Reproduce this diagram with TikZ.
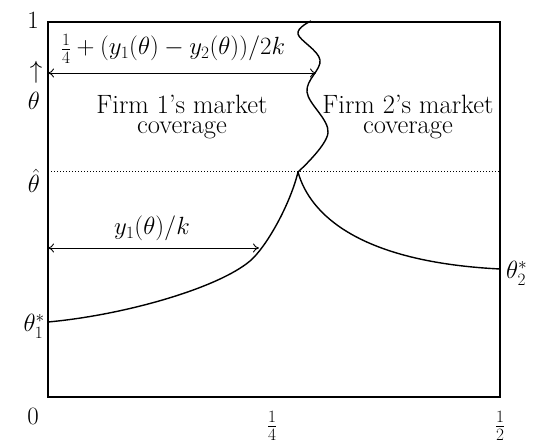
\documentclass[tikz,border=0pt]{standalone}
\usetikzlibrary{arrows.meta}
\begin{document}
\begin{tikzpicture}[x=1pt,y=-1pt,
  font=\fontsize{24}{20}\selectfont,
  frame/.style={line width=1.3pt},
  curvestyle/.style={line width=1.4pt, line join=round},
  dimline/.style={line width=0.9pt, {To[length=6pt,width=9pt]}-{To[length=6pt,width=9pt]}},
  lab/.style={inner sep=0pt},
  txt/.style={inner sep=0pt, align=center, font=\fontsize{26.5}{20.5}\selectfont}]
\useasboundingbox (0,0) rectangle (536,443);
% frame corners
\coordinate (tl) at (48,22);
\coordinate (br) at (500,397);
\draw[frame] (tl) rectangle (br);
% dotted theta-hat line
\coordinate (dl) at (48,172);
\coordinate (dr) at (500,172);
\coordinate (cusp) at (298,172);
\coordinate (f1start) at (48,322);
\coordinate (f1mid) at (250,261);
\coordinate (f2end) at (500,269);
\draw[line width=1pt, dotted] (dl) -- (dr);
% firm 1 boundary
\draw[curvestyle] (f1start) .. controls (125,315) and (218,288) .. (f1mid)
  .. controls (266,247.5) and (290,205) .. (cusp);
% firm 2 boundary
\draw[curvestyle] (cusp) .. controls (310,215) and (360,262) .. (f2end);
% wavy boundary
\draw[curvestyle] plot[smooth, tension=0.6] coordinates {(298,172) (328,133) (307,92) (320,60) (298,34) (311,21)};
% dimension arrows
\coordinate (a1l) at (48,73);
\coordinate (a1r) at (316,73);
\draw[dimline] (a1l) -- (a1r);
\coordinate (a2l) at (48,248);
\coordinate (a2r) at (259,248);
\draw[dimline] (a2l) -- (a2r);
% labels
\node[lab, anchor=base] (toplab) at (173,55) {$\frac14+(y_1(\theta)-y_2(\theta))/2k$};
\node[lab, anchor=base] (ylab) at (152,235) {$y_1(\theta)/k$};
\node[txt, anchor=base] (f1) at (182,134) {Firm 1's market\\coverage};
\node[txt, anchor=base] (f2) at (408,134) {Firm 2's market\\coverage};
% axis labels
\node[lab, anchor=base] (one) at (33,29) {$1$};
\node[lab] (up) at (36,72) {$\uparrow$};
\node[lab, anchor=base] (th) at (34,110) {$\theta$};
\node[lab, anchor=base] (thhat) at (34,193) {$\hat\theta$};
\node[lab, anchor=base east] (th1) at (45,332) {$\theta_1^*$};
\node[lab, anchor=base] (zero) at (33,425) {$0$};
\node[lab] (q) at (272,426) {$\frac14$};
\node[lab] (h) at (500,426) {$\frac12$};
\node[lab, anchor=base west] (th2) at (506,279) {$\theta_2^*$};
\end{tikzpicture}
\end{document}
